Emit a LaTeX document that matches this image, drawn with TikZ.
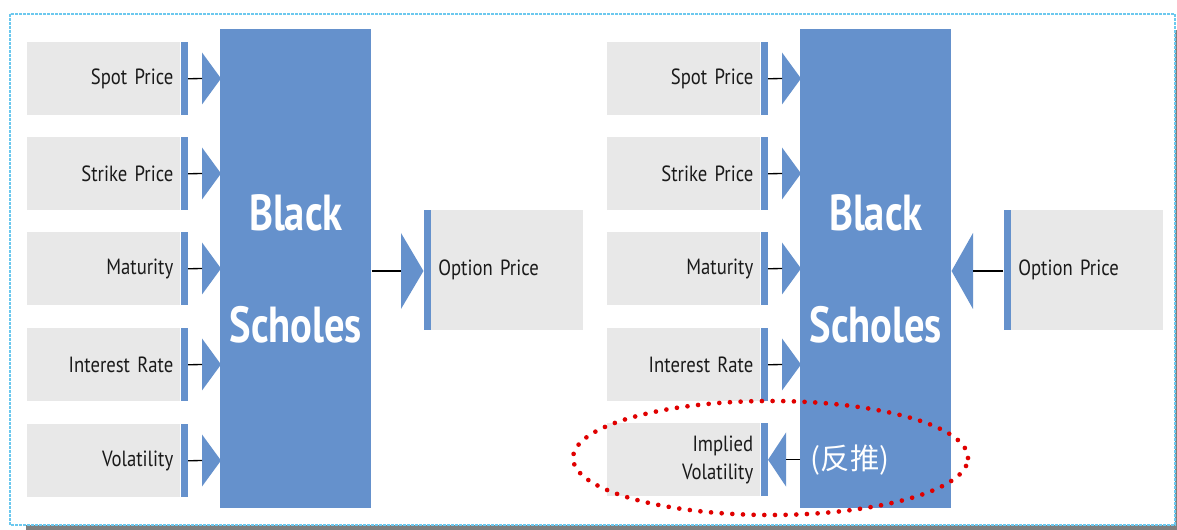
\documentclass[tikz,border=0pt]{standalone}
\usepackage{fontspec}
\newfontfamily\labfont[FakeStretch=0.85,WordSpace=0.8]{PT Sans}
\newfontfamily\bsfont[FakeStretch=0.8]{PT Sans}
\newfontfamily\cjk{Noto Sans CJK SC}
\definecolor{bsblue}{HTML}{6591CC}
\definecolor{boxgray}{HTML}{E8E8E8}
\definecolor{frameblue}{HTML}{6CC8EE}
\definecolor{shadowgray}{HTML}{7F7F7F}
\definecolor{dotred}{HTML}{E00000}
\definecolor{textdark}{HTML}{1A1A1A}
\def\p{0.75pt}
\tikzset{
  inbox/.style={fill=boxgray, inner ysep=0pt, inner xsep=7*\p, minimum height=73*\p,
    text width=139*\p, align=right, text=textdark,
    font=\labfont\fontsize{16.5}{21}\selectfont},
  inbar/.style={fill=bsblue, inner sep=0pt, minimum width=7*\p, minimum height=73*\p},
  bsbox/.style={fill=bsblue, inner sep=0pt, minimum width=151*\p, minimum height=479*\p,
    text=white, align=center, font=\bsfont\bfseries\fontsize{38}{84}\selectfont},
  obox/.style={fill=boxgray, inner ysep=0pt, inner xsep=7*\p, minimum height=120*\p,
    text width=138*\p, align=left, text=textdark,
    font=\labfont\fontsize{16.5}{21}\selectfont},
  obar/.style={fill=bsblue, inner sep=0pt, minimum width=7*\p, minimum height=120*\p},
  conn/.style={draw=black, line width=1pt},
  tri/.style={fill=bsblue}
}
\begin{document}
\begin{tikzpicture}[x=0.75pt,y=-0.75pt]
\useasboundingbox (0,0) rectangle (1177,530);
% frame with shadow
\fill[shadowgray] (26,30) rectangle (1177,530);
\draw[frameblue, fill=white, line width=0.8pt, dash pattern=on 2pt off 1pt] (10,14) rectangle (1175,525);

% Black Scholes boxes
\node[bsbox, anchor=north west] (LBS) at (220,29) {Black\\Scholes};
\node[bsbox, anchor=north west] (RBS) at (800,29) {Black\\Scholes};

% input boxes
\foreach \ox/\s in {0/L,580/R} {
  \foreach \n/\y/\t in {a/42/Spot Price,b/137/Strike Price,c/232/Maturity,d/328/Interest Rate} {
    \node[inbox, anchor=north west] (\s\n) at (27+\ox,\y) {\t};
    \node[inbar, anchor=west] (\s\n-b) at (\s\n.east) {};
    \coordinate (\s\n-t) at (202+\ox,\y+36.5);
    \fill[tri] (\s\n-t) ++(0,-26) -- ++(19,26) -- ++(-19,26) -- cycle;
    \draw[conn] (\s\n-b.east) -- (\s\n-t);
  }
}
% Volatility (left)
\node[inbox, anchor=north west] (Le) at (27,424) {Volatility};
\node[inbar, anchor=west] (Le-b) at (Le.east) {};
\coordinate (Le-t) at (202,460.5);
\fill[tri] (Le-t) ++(0,-26) -- ++(19,26) -- ++(-19,26) -- cycle;
\draw[conn] (Le-b.east) -- (Le-t);

% Implied Volatility (right)
\node[inbox, anchor=north west] (Re) at (607,423) {Implied\\Volatility};
\node[inbar, anchor=west] (Re-b) at (Re.east) {};
\coordinate (Re-t) at (786,459.5);
\fill[tri] (Re-t) ++(0,-27) -- (Re-b.east) -- (786,486.5) -- cycle;
\draw[conn] (RBS.west |- Re-t) -- (Re-t);

% Option Price (left)
\node[obox, anchor=north west] (Lop) at (431,210) {Option Price};
\node[obar, anchor=east] (Lop-b) at (Lop.west) {};
\coordinate (Lop-t) at (401,271);
\fill[tri] (Lop-t) ++(0,-38) -- (Lop-b.west |- Lop-t) -- (401,309) -- cycle;
\draw[conn] (LBS.east |- Lop-t) -- (Lop-t);

% Option Price (right)
\node[obox, anchor=north west] (Rop) at (1011,210) {Option Price};
\node[obar, anchor=east] (Rop-b) at (Rop.west) {};
\coordinate (Rop-t) at (973,271);
\fill[tri] (Rop-t) ++(0,-38) -- (RBS.east |- Rop-t) -- (973,309) -- cycle;
\draw[conn] (Rop-b.west |- Rop-t) -- (Rop-t);

% dotted ellipse and note
\draw[dotred, line width=3.5pt, line cap=round, dash pattern=on 0pt off 8pt]
  (770.5,458) ellipse [x radius=148.1pt, y radius=42.75pt];
\node[text=white, font=\cjk\fontsize{22}{26}\selectfont, inner sep=0pt] (fan) at (850,460) {(反推)};
\end{tikzpicture}
\end{document}
